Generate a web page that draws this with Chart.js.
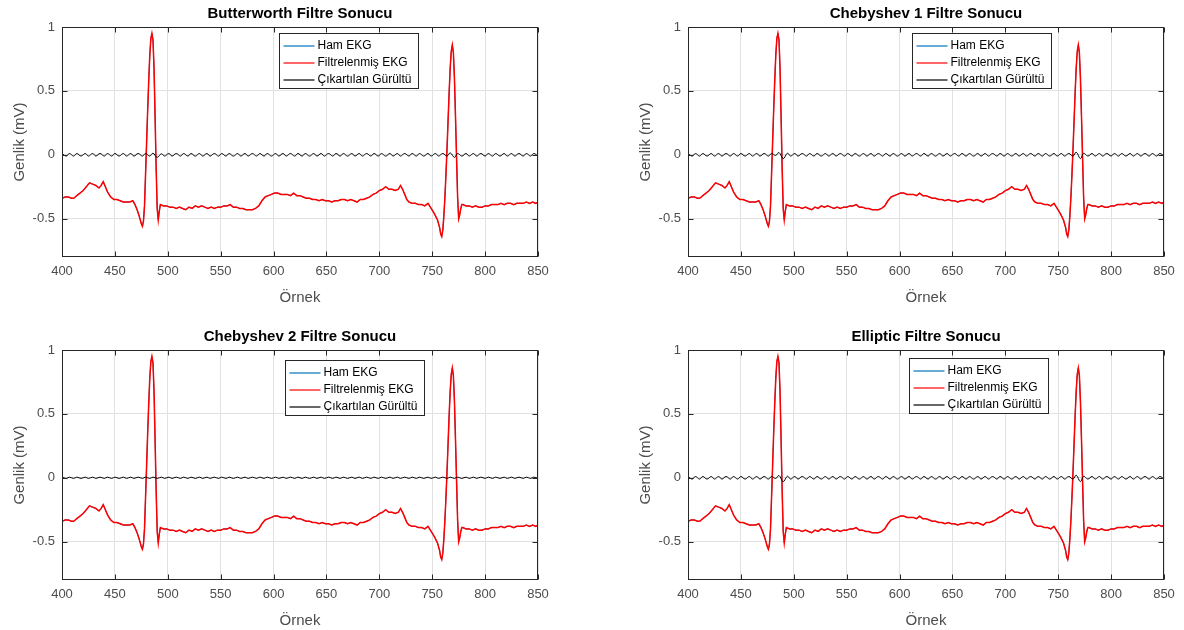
<!DOCTYPE html>
<html>
<head>
<meta charset="utf-8">
<script src="https://cdn.jsdelivr.net/npm/chart.js@4"></script>
<style>
body { margin: 0; background: #fff; width: 1184px; height: 630px; position: relative; overflow: hidden; }
.kutu { position: absolute; width: 560px; height: 307px; }
</style>
</head>
<body>
<div class="kutu" style="left:0;top:0"><canvas id="c1"></canvas></div>
<div class="kutu" style="left:626px;top:0"><canvas id="c2"></canvas></div>
<div class="kutu" style="left:0;top:323px"><canvas id="c3"></canvas></div>
<div class="kutu" style="left:626px;top:323px"><canvas id="c4"></canvas></div>
<script>
// örnek numaraları ve EKG genlikleri (mV)
const ornekX = [
    400,403,406,409,411,414,417,420,423,426,429,432,435,437,439,441,443,446,449,452,455,458,461,464,467,
    469,471,473,475,476,477,478,479,480,481,482,483,484,485,486,487,488,489,490,491,492,493,
    496,499,502,505,508,511,514,517,520,523,526,529,532,535,538,541,544,547,550,553,556,559,562,565,568,571,574,577,580,583,586,
    589,592,595,598,601,604,607,610,613,616,619,622,625,628,631,634,637,640,643,646,649,652,655,658,661,664,667,670,673,676,679,682,685,688,691,694,697,700,703,706,709,712,715,718,
    720,722,724,726,728,731,734,737,740,743,746,749,752,755,757,
    758,759,760,761,762,763,764,765,766,767,768,769,770,771,772,773,774,775,776,777,778,779,
    782,785,788,791,794,797,800,803,806,809,812,815,818,821,824,827,830,833,836,839,842,845,848,850
];

const hamEkg = [
    -0.34,-0.33,-0.33,-0.34,-0.34,-0.32,-0.30,-0.28,-0.25,-0.22,-0.23,-0.24,-0.26,-0.24,-0.21,-0.25,-0.29,-0.33,-0.35,-0.35,-0.36,-0.37,-0.37,-0.37,-0.36,
    -0.39,-0.43,-0.48,-0.54,-0.56,-0.52,-0.40,-0.15,0.10,0.35,0.58,0.78,0.91,0.95,0.90,0.68,0.30,-0.10,-0.42,-0.51,-0.44,-0.39,
    -0.40,-0.40,-0.41,-0.41,-0.42,-0.41,-0.42,-0.43,-0.41,-0.42,-0.40,-0.41,-0.40,-0.41,-0.42,-0.41,-0.42,-0.41,-0.41,-0.40,-0.40,-0.39,-0.41,-0.41,-0.42,-0.42,-0.43,-0.43,-0.43,-0.42,-0.40,
    -0.36,-0.33,-0.32,-0.31,-0.30,-0.30,-0.31,-0.31,-0.31,-0.32,-0.30,-0.32,-0.32,-0.33,-0.34,-0.34,-0.35,-0.35,-0.36,-0.35,-0.36,-0.36,-0.37,-0.36,-0.36,-0.35,-0.35,-0.36,-0.35,-0.36,-0.37,-0.35,-0.35,-0.34,-0.33,-0.31,-0.30,-0.28,-0.27,-0.25,-0.27,-0.27,-0.28,-0.27,
    -0.24,-0.27,-0.31,-0.35,-0.37,-0.38,-0.38,-0.39,-0.39,-0.40,-0.38,-0.42,-0.46,-0.51,-0.57,
    -0.62,-0.64,-0.59,-0.48,-0.33,-0.15,0.05,0.27,0.49,0.68,0.81,0.86,0.80,0.60,0.30,-0.02,-0.33,-0.50,-0.47,-0.42,-0.39,-0.39,
    -0.40,-0.40,-0.41,-0.40,-0.41,-0.41,-0.40,-0.40,-0.39,-0.39,-0.39,-0.38,-0.39,-0.38,-0.38,-0.39,-0.38,-0.38,-0.38,-0.37,-0.38,-0.37,-0.38,-0.37
];

const filtreliEkg = hamEkg;

// çıkartılan gürültü: tepe/çukur örnekleri
const gurultuX = [
    400,404,407,411,414,418,422,425,429,432,
    436,440,443,447,450,454,458,461,465,468,
    472,476,479,483,486,490,494,497,501,504,
    508,512,515,519,522,526,530,533,537,540,
    544,548,551,555,558,562,566,569,573,576,
    580,584,587,591,594,598,602,605,609,612,
    616,620,623,627,630,634,638,641,645,648,
    652,656,659,663,666,670,674,677,681,684,
    688,692,695,699,702,706,710,713,717,720,
    724,728,731,735,738,742,746,749,753,756,
    760,764,767,771,774,778,782,785,789,792,
    796,800,803,807,810,814,818,821,825,828,
    832,836,839,843,846,850
];

const gurultuButter = [
    0.01,-0.01,0.01,-0.01,0.01,-0.01,0.01,-0.01,0.01,-0.01,
    0.01,-0.01,0.01,-0.01,0.01,-0.01,0.01,-0.01,0.01,-0.01,
    0.01,-0.01,0.01,-0.01,0.012,-0.02,0.008,-0.01,0.01,-0.01,
    0.01,-0.01,0.01,-0.01,0.01,-0.01,0.01,-0.01,0.01,-0.01,
    0.01,-0.01,0.01,-0.01,0.01,-0.01,0.01,-0.01,0.01,-0.01,
    0.01,-0.01,0.01,-0.01,0.01,-0.01,0.01,-0.01,0.01,-0.01,
    0.01,-0.01,0.01,-0.01,0.01,-0.01,0.01,-0.01,0.01,-0.01,
    0.01,-0.01,0.01,-0.01,0.01,-0.01,0.01,-0.01,0.01,-0.01,
    0.01,-0.01,0.01,-0.01,0.01,-0.01,0.01,-0.01,0.01,-0.01,
    0.01,-0.01,0.01,-0.01,0.01,-0.01,0.01,-0.01,0.01,-0.01,
    0.01,-0.01,0.015,-0.02,0.01,-0.01,0.01,-0.01,0.01,-0.01,
    0.01,-0.01,0.01,-0.01,0.01,-0.01,0.01,-0.01,0.01,-0.01,
    0.01,-0.01,0.01,-0.01,0.01,-0.01
];

const gurultuCheby1 = [
    0.01,-0.01,0.01,-0.01,0.01,-0.01,0.01,-0.01,0.01,-0.01,
    0.01,-0.01,0.01,-0.01,0.01,-0.01,0.01,-0.01,0.01,-0.01,
    0.01,-0.01,0.01,-0.005,0.018,-0.03,0.012,-0.01,0.01,-0.01,
    0.01,-0.01,0.01,-0.01,0.01,-0.01,0.01,-0.01,0.01,-0.01,
    0.01,-0.01,0.01,-0.01,0.01,-0.01,0.01,-0.01,0.01,-0.01,
    0.01,-0.01,0.01,-0.01,0.01,-0.01,0.01,-0.01,0.01,-0.01,
    0.01,-0.01,0.01,-0.01,0.01,-0.01,0.01,-0.01,0.01,-0.01,
    0.01,-0.01,0.01,-0.01,0.01,-0.01,0.01,-0.01,0.01,-0.01,
    0.01,-0.01,0.01,-0.01,0.01,-0.01,0.01,-0.01,0.01,-0.01,
    0.01,-0.01,0.01,-0.01,0.01,-0.01,0.01,-0.01,0.01,-0.01,
    0.01,-0.01,0.02,-0.03,0.012,-0.01,0.01,-0.01,0.01,-0.01,
    0.01,-0.01,0.01,-0.01,0.01,-0.01,0.01,-0.01,0.01,-0.01,
    0.01,-0.01,0.01,-0.01,0.01,-0.01
];

const gurultuCheby2 = [
    0.005,-0.005,0.005,-0.005,0.005,-0.005,0.005,-0.005,0.005,-0.005,
    0.005,-0.005,0.005,-0.005,0.005,-0.005,0.005,-0.005,0.005,-0.005,
    0.005,-0.005,0.005,-0.005,0.005,-0.005,0.005,-0.005,0.005,-0.005,
    0.005,-0.005,0.005,-0.005,0.005,-0.005,0.005,-0.005,0.005,-0.005,
    0.005,-0.005,0.005,-0.005,0.005,-0.005,0.005,-0.005,0.005,-0.005,
    0.005,-0.005,0.005,-0.005,0.005,-0.005,0.005,-0.005,0.005,-0.005,
    0.005,-0.005,0.005,-0.005,0.005,-0.005,0.005,-0.005,0.005,-0.005,
    0.005,-0.005,0.005,-0.005,0.005,-0.005,0.005,-0.005,0.005,-0.005,
    0.005,-0.005,0.005,-0.005,0.005,-0.005,0.005,-0.005,0.005,-0.005,
    0.005,-0.005,0.005,-0.005,0.005,-0.005,0.005,-0.005,0.005,-0.005,
    0.005,-0.005,0.005,-0.005,0.005,-0.005,0.005,-0.005,0.005,-0.005,
    0.005,-0.005,0.005,-0.005,0.005,-0.005,0.005,-0.005,0.005,-0.005,
    0.005,-0.005,0.005,-0.005,0.005,-0.005
];

const gurultuElliptic = gurultuCheby1;

const xTikler = [400,450,500,550,600,650,700,750,800,850];
const yTikler = [-0.5,0,0.5,1];

const seriAdlari = ["Ham EKG", "Filtrelenmiş EKG", "Çıkartılan Gürültü"];

Chart.defaults.font.family = "'Liberation Sans', Arial, sans-serif";

// MATLAB tarzı çerçeve, içe dönük tikler ve kutulu lejant
const cerceve = {
    id: "cerceve",
    afterDatasetsDraw(chart, args, opts) {
        const ctx = chart.ctx;
        const a = chart.chartArea;
        const sx = chart.scales.x;
        const sy = chart.scales.y;
        ctx.save();
        ctx.strokeStyle = "#262626";
        ctx.lineWidth = 1;
        const L = Math.round(a.left) + 0.5, R = Math.round(a.right) - 0.5;
        const T = Math.round(a.top) + 0.5, B = Math.round(a.bottom) - 0.5;
        ctx.strokeRect(L, T, R - L, B - T);

        ctx.beginPath();
        sx.ticks.forEach(t => {
            const p = Math.round(sx.getPixelForValue(t.value)) + 0.5;
            ctx.moveTo(p, B); ctx.lineTo(p, B - 5);
            ctx.moveTo(p, T); ctx.lineTo(p, T + 5);
        });
        sy.ticks.forEach(t => {
            const p = Math.round(sy.getPixelForValue(t.value)) + 0.5;
            ctx.moveTo(L, p); ctx.lineTo(L + 5, p);
            ctx.moveTo(R, p); ctx.lineTo(R - 5, p);
        });
        ctx.stroke();

        // lejant
        const x0 = Math.round(a.left + opts.dx) + 0.5;
        const y0 = Math.round(a.top + opts.dy) + 0.5;
        const w = 139, h = 55;
        ctx.fillStyle = "#fff";
        ctx.fillRect(x0, y0, w, h);
        ctx.strokeStyle = "#262626";
        ctx.strokeRect(x0, y0, w, h);
        ctx.font = "12px 'Liberation Sans', Arial, sans-serif";
        ctx.textBaseline = "middle";
        chart.data.datasets.forEach((ds, i) => {
            const y = Math.round(y0 + 12 + i * 17);
            ctx.strokeStyle = ds.borderColor;
            ctx.lineWidth = 1.2;
            ctx.beginPath();
            ctx.moveTo(x0 + 4, y);
            ctx.lineTo(x0 + 35, y);
            ctx.stroke();
            ctx.fillStyle = "#000";
            ctx.fillText(ds.label, x0 + 38, y);
        });
        ctx.restore();
    }
};

function ciz(id, baslik, gurultu, dx, dy) {

    const ctx = document.getElementById(id).getContext("2d");

    new Chart(ctx, {
        type: "line",
        data: {
            datasets: [
                {
                    label: seriAdlari[0],
                    data: ornekX.map((x, i) => ({ x: x, y: hamEkg[i] })),
                    borderColor: "#0072BD",
                    borderWidth: 1,
                    pointRadius: 0,
                    order: 3
                },
                {
                    label: seriAdlari[1],
                    data: ornekX.map((x, i) => ({ x: x, y: filtreliEkg[i] })),
                    borderColor: "#ff0000",
                    borderWidth: 1.5,
                    pointRadius: 0,
                    order: 2
                },
                {
                    label: seriAdlari[2],
                    data: gurultuX.map((x, i) => ({ x: x, y: gurultu[i] })),
                    borderColor: "#000000",
                    borderWidth: 1,
                    pointRadius: 0,
                    tension: 0.4,
                    order: 1
                }
            ]
        },
        options: {
            responsive: true,
            maintainAspectRatio: false,
            animation: false,
            layout: {
                padding: { left: 0, right: 22, top: 0, bottom: 0 }
            },
            plugins: {
                legend: { display: false },
                tooltip: { enabled: false },
                title: {
                    display: true,
                    text: baslik,
                    fullSize: false,
                    color: "#000",
                    font: { size: 15, weight: "bold" },
                    padding: { top: 5, bottom: 4 }
                },
                cerceve: { dx: dx, dy: dy }
            },
            scales: {
                x: {
                    type: "linear",
                    min: 400,
                    max: 850,
                    afterBuildTicks: s => { s.ticks = xTikler.map(v => ({ value: v })); },
                    afterFit: s => { s.height = 50; },
                    ticks: {
                        color: "#4d4d4d",
                        font: { size: 13 },
                        padding: 7,
                        maxRotation: 0,
                        callback: v => String(v)
                    },
                    grid: { color: "#e2e2e2", drawTicks: false },
                    border: { display: false },
                    title: {
                        display: true,
                        text: "Örnek",
                        color: "#4d4d4d",
                        font: { size: 15 },
                        padding: { top: 0, bottom: 0 }
                    }
                },
                y: {
                    min: -0.8,
                    max: 1,
                    afterBuildTicks: s => { s.ticks = yTikler.map(v => ({ value: v })); },
                    afterFit: s => { s.width = 62; },
                    ticks: {
                        color: "#4d4d4d",
                        font: { size: 13 },
                        padding: 7,
                        callback: v => String(v)
                    },
                    grid: { color: "#e2e2e2", drawTicks: false },
                    border: { display: false },
                    title: {
                        display: true,
                        text: "Genlik (mV)",
                        color: "#4d4d4d",
                        font: { size: 15 },
                        padding: { top: 11, bottom: 0 }
                    }
                }
            }
        },
        plugins: [cerceve]
    });
}

ciz("c1", "Butterworth Filtre Sonucu", gurultuButter, 217, 6);
ciz("c2", "Chebyshev 1 Filtre Sonucu", gurultuCheby1, 224, 6);
ciz("c3", "Chebyshev 2 Filtre Sonucu", gurultuCheby2, 223, 10);
ciz("c4", "Elliptic Filtre Sonucu", gurultuElliptic, 221, 8);
</script>
</body>
</html>
